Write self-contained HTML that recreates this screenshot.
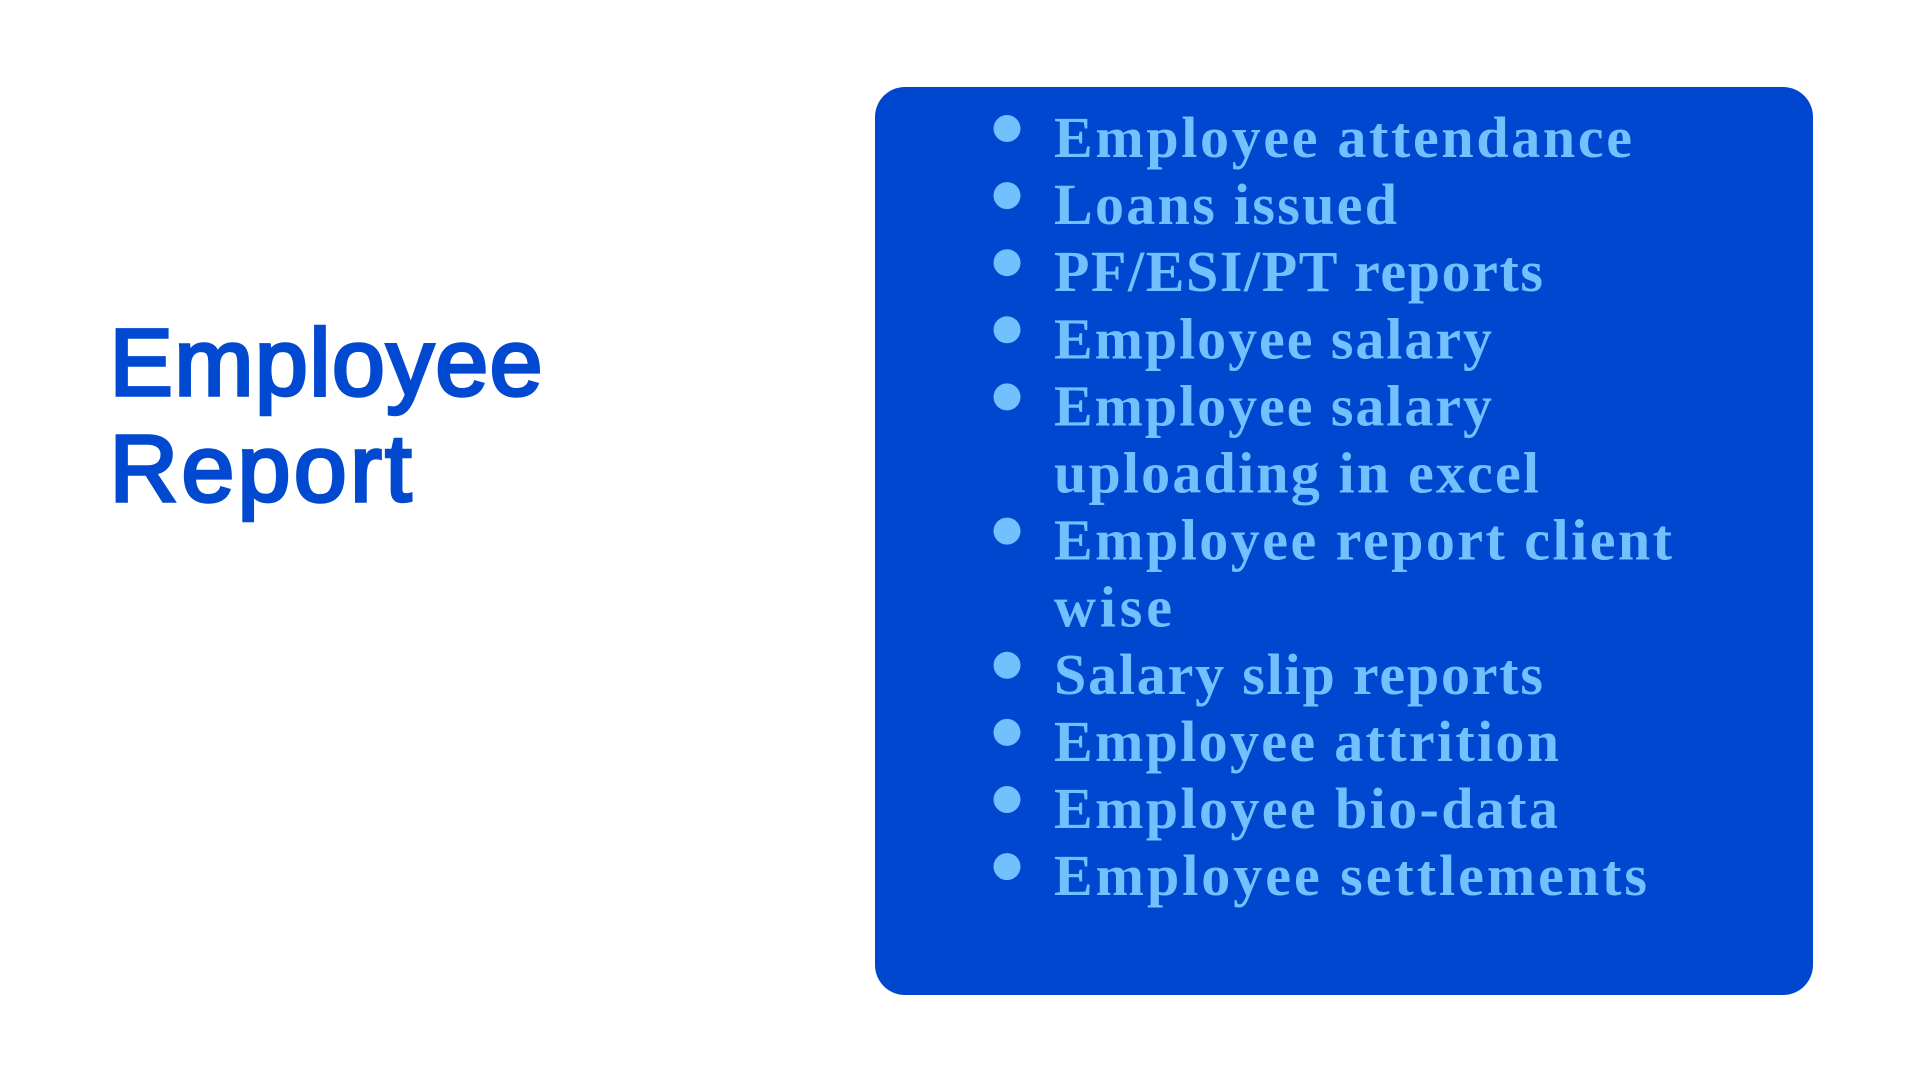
<!DOCTYPE html>
<html lang="en">
<head>
<meta charset="utf-8">
<title>Employee Report</title>
<style>
html,body{margin:0;padding:0;width:1920px;height:1080px;background:#ffffff;overflow:hidden}
svg{display:block}
.title{font-family:"Liberation Sans",sans-serif;font-size:95px;fill:#0049d0;stroke:#0049d0;stroke-width:3.4px}
.item{font-family:"Liberation Serif",serif;font-weight:bold;font-size:58px;fill:#73c0ff}
.bullet{fill:#73c0ff}
</style>
</head>
<body>
<svg width="1920" height="1080" viewBox="0 0 1920 1080">
<text class="title" x="109.5" y="395" textLength="433" lengthAdjust="spacing">Employee</text>
<text class="title" x="109.5" y="501" textLength="302" lengthAdjust="spacing">Report</text>
<rect x="875" y="87" width="938" height="908" rx="30" ry="30" fill="#0047cf"/>

<circle class="bullet" cx="1007" cy="128.5" r="13.5"/>
<circle class="bullet" cx="1007" cy="195.6" r="13.5"/>
<circle class="bullet" cx="1007" cy="262.7" r="13.5"/>
<circle class="bullet" cx="1007" cy="329.8" r="13.5"/>
<circle class="bullet" cx="1007" cy="396.9" r="13.5"/>
<circle class="bullet" cx="1007" cy="531.1" r="13.5"/>
<circle class="bullet" cx="1007" cy="665.3" r="13.5"/>
<circle class="bullet" cx="1007" cy="732.4" r="13.5"/>
<circle class="bullet" cx="1007" cy="799.5" r="13.5"/>
<circle class="bullet" cx="1007" cy="866.6" r="13.5"/>

<text class="item" x="1054" y="157" textLength="578" lengthAdjust="spacing">Employee attendance</text>
<text class="item" x="1054" y="224.1" textLength="343" lengthAdjust="spacing">Loans issued</text>
<text class="item" x="1054" y="291.2" textLength="489" lengthAdjust="spacing">PF/ESI/PT reports</text>
<text class="item" x="1054" y="358.3" textLength="438" lengthAdjust="spacing">Employee salary</text>
<text class="item" x="1054" y="425.4" textLength="438" lengthAdjust="spacing">Employee salary</text>
<text class="item" x="1054" y="492.5" textLength="485" lengthAdjust="spacing">uploading in excel</text>
<text class="item" x="1054" y="559.6" textLength="618" lengthAdjust="spacing">Employee report client</text>
<text class="item" x="1054" y="626.7" textLength="118" lengthAdjust="spacing">wise</text>
<text class="item" x="1054" y="693.8" textLength="489" lengthAdjust="spacing">Salary slip reports</text>
<text class="item" x="1054" y="760.9" textLength="505" lengthAdjust="spacing">Employee attrition</text>
<text class="item" x="1054" y="828" textLength="504" lengthAdjust="spacing">Employee bio-data</text>
<text class="item" x="1054" y="895.1" textLength="593" lengthAdjust="spacing">Employee settlements</text>
</svg>
</body>
</html>
